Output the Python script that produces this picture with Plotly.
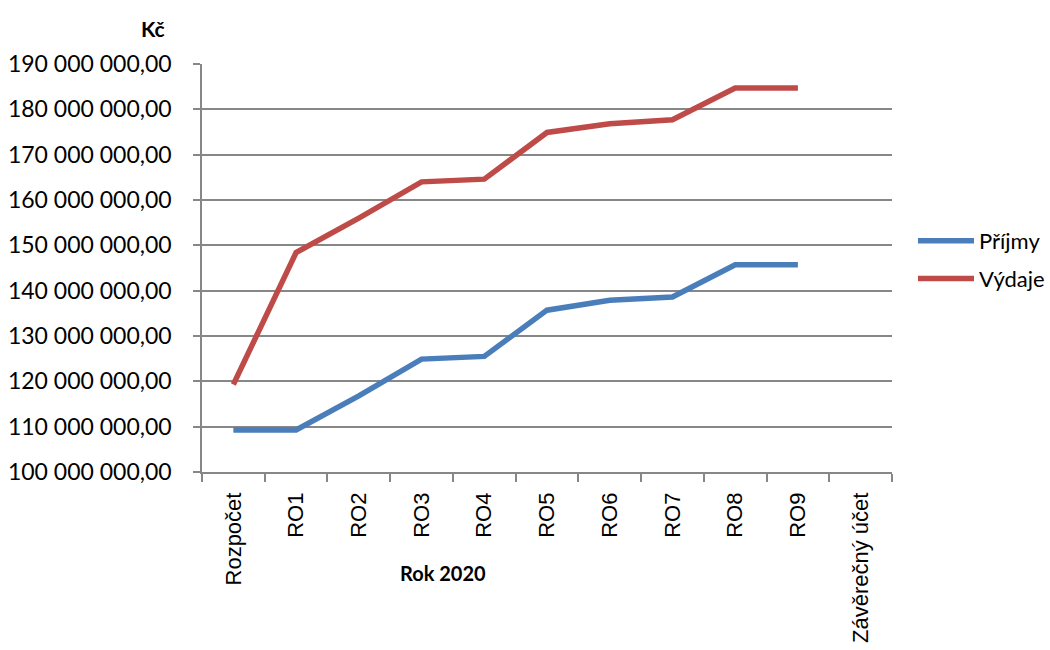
import plotly.graph_objects as go

categories = ["Rozpočet", "RO1", "RO2", "RO3", "RO4", "RO5", "RO6", "RO7", "RO8", "RO9", "Závěrečný účet"]
prijmy = [109.27e6, 109.27e6, 116.8e6, 124.9e6, 125.5e6, 135.7e6, 137.9e6, 138.6e6, 145.7e6, 145.7e6, None]
vydaje = [119.3e6, 148.4e6, 156.0e6, 164.0e6, 164.6e6, 174.9e6, 176.8e6, 177.7e6, 184.7e6, 184.7e6, None]
y_ticks = [100e6, 110e6, 120e6, 130e6, 140e6, 150e6, 160e6, 170e6, 180e6, 190e6]

fig = go.Figure()
fig.add_trace(go.Scatter(x=categories, y=prijmy, name="Příjmy", mode="lines", legendgroup="p",
                         line=dict(color="#4A7EBB", width=5.5), connectgaps=False))
fig.add_trace(go.Scatter(x=categories, y=vydaje, name="Výdaje", mode="lines", legendgroup="v",
                         line=dict(color="#BE4B48", width=5.5), connectgaps=False))

L, R, T, B = 202, 158, 64, 178
pw = 1050 - L - R
ph = 650 - T - B

fig.update_layout(
    width=1050, height=650,
    margin=dict(l=L, r=R, t=T, b=B, pad=0, autoexpand=False),
    paper_bgcolor="white", plot_bgcolor="white",
    separators=", ",
    font=dict(family="Lato", size=20, color="black"),
    showlegend=True,
    legend=dict(x=(913 - L) / pw, y=(650 - B - 260) / ph, xanchor="left", yanchor="middle",
                font=dict(family="Lato", size=22), tracegroupgap=6,
                itemwidth=56, bgcolor="rgba(0,0,0,0)"),
    xaxis=dict(
        type="category", categoryorder="array", categoryarray=categories,
        range=[-0.5, len(categories) - 0.5], automargin=False,
        showgrid=False, showline=True, linecolor="#878787", linewidth=1.5,
        ticks="outside", tickson="boundaries", ticklen=8, tickcolor="#878787", tickwidth=1.5,
        tickangle=-90, tickfont=dict(family="Liberation Sans", size=22),
        ticklabelstandoff=10,
    ),
    yaxis=dict(
        range=[100e6, 190e6], tickvals=y_ticks, tickformat=",.2f", automargin=False,
        showgrid=True, gridcolor="#878787", gridwidth=1.5,
        showline=True, linecolor="#878787", linewidth=1.5,
        ticks="outside", ticklen=7, tickcolor="#878787", tickwidth=1.5,
        tickfont=dict(family="Lato", size=23),
        ticklabelstandoff=17, zeroline=False,
    ),
    annotations=[
        dict(text="<b>Kč</b>", xref="paper", yref="paper",
             x=(153 - L) / pw, y=1 + (T - 28) / ph, xanchor="center", yanchor="middle",
             showarrow=False, font=dict(family="Lato", size=21)),
        dict(text="<b>Rok 2020</b>", xref="paper", yref="paper",
             x=(443 - L) / pw, y=-(573 - (T + ph)) / ph, xanchor="center", yanchor="middle",
             showarrow=False, font=dict(family="Lato", size=20)),
    ],
)

fig.write_html("out.html")
